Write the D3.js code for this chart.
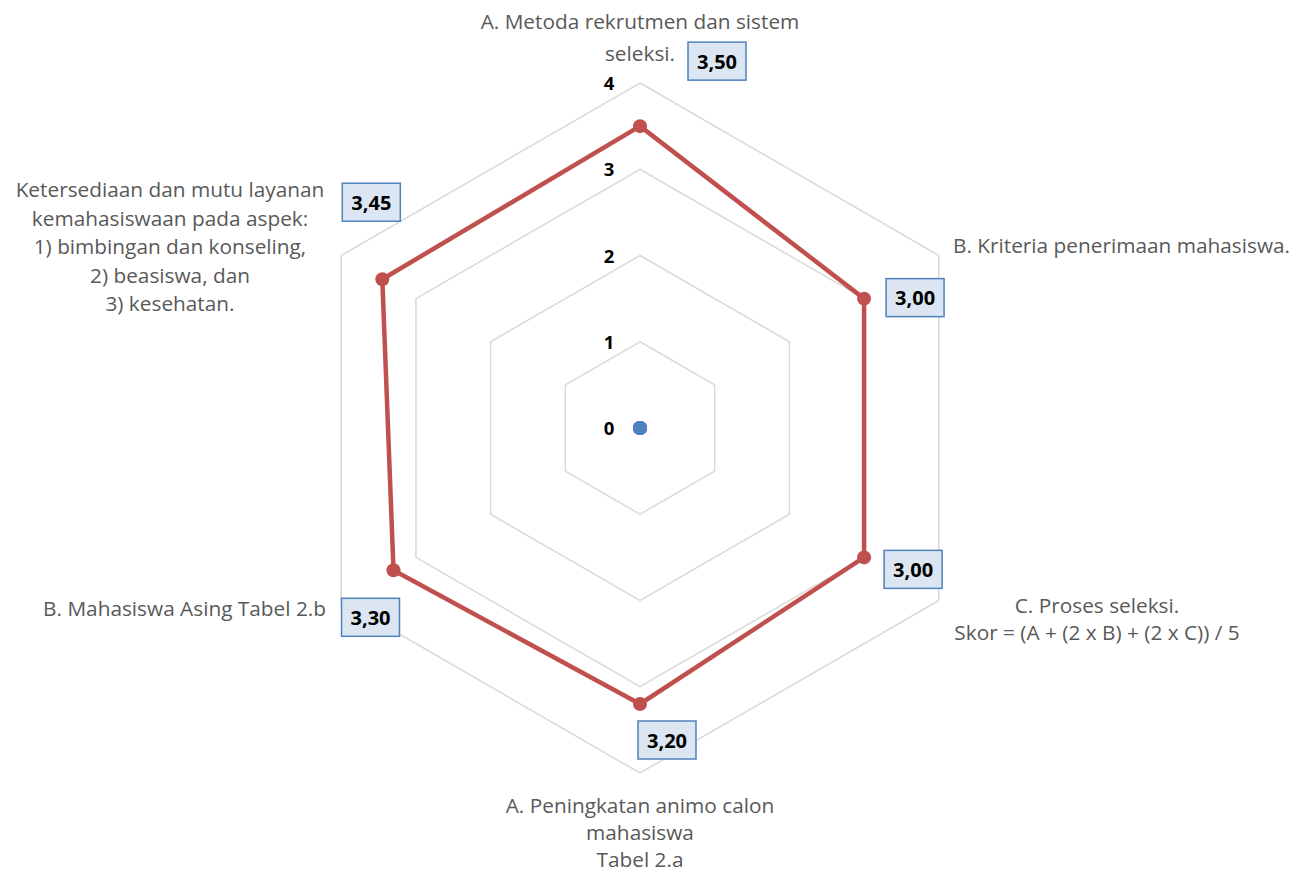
<!DOCTYPE html>
<html>
<head>
<meta charset="utf-8">
<script src="https://cdn.jsdelivr.net/npm/d3@7"></script>
<style>
  body { margin: 0; background: #fff; }
  svg { display: block; }
</style>
</head>
<body>
<div id="chart"></div>
<script>
// categories (clockwise from top), each a list of lines
var categories = [
  ["A. Metoda rekrutmen dan sistem", "seleksi."],
  ["B. Kriteria penerimaan mahasiswa."],
  ["C. Proses seleksi.", "Skor = (A + (2 x B) + (2 x C)) / 5"],
  ["A. Peningkatan animo calon", "mahasiswa", "Tabel 2.a"],
  ["B. Mahasiswa Asing Tabel 2.b"],
  ["Ketersediaan dan mutu layanan", "kemahasiswaan pada aspek:", "1) bimbingan dan konseling,", "2) beasiswa, dan", "3) kesehatan."]
]
var scores = [3.50, 3.00, 3.00, 3.20, 3.30, 3.45]
var baseline = [0, 0, 0, 0, 0, 0]
var ticks = [0, 1, 2, 3, 4]

var W = 1297, H = 874
var cx = 640, cy = 428, R = 345

var svg = d3.select("#chart").append("svg")
  .attr("width", W)
  .attr("height", H)

var r = d3.scaleLinear().domain([0, 4]).range([0, R])
var ang = d3.scaleLinear().domain([0, categories.length]).range([0, 2 * Math.PI])

function pt(i, v) {
  var a = ang(i)
  return [cx + r(v) * Math.sin(a), cy - r(v) * Math.cos(a)]
}

// grid hexagons
ticks.filter(function(t){ return t > 0 }).forEach(function(t) {
  var pts = categories.map(function(c, i){ return pt(i, t) })
  svg.append("path")
    .attr("d", d3.line()(pts) + "Z")
    .attr("fill", "none")
    .attr("stroke", "#d9d9d9")
    .attr("stroke-width", 1.5)
})

// tick labels
svg.selectAll(".tick").data(ticks).enter().append("text")
  .attr("class", "tick")
  .attr("x", cx - 31)
  .attr("y", function(d){ return cy - r(d) + 7 })
  .attr("text-anchor", "middle")
  .attr("font-family", "'Open Sans', sans-serif")
  .attr("font-weight", "bold")
  .attr("font-size", 18.5)
  .attr("fill", "#000")
  .text(function(d){ return d })

// baseline series (all zero)
svg.selectAll(".base").data(baseline).enter().append("circle")
  .attr("class", "base")
  .attr("cx", function(d, i){ return pt(i, d)[0] })
  .attr("cy", function(d, i){ return pt(i, d)[1] })
  .attr("r", 7)
  .attr("fill", "#4f81bd")

// score series
var linePts = scores.map(function(v, i){ return pt(i, v) })
svg.append("path")
  .attr("d", d3.line()(linePts) + "Z")
  .attr("fill", "none")
  .attr("stroke", "#c0504d")
  .attr("stroke-width", 4.5)
  .attr("stroke-linejoin", "round")

svg.selectAll(".dot").data(scores).enter().append("circle")
  .attr("class", "dot")
  .attr("cx", function(d, i){ return pt(i, d)[0] })
  .attr("cy", function(d, i){ return pt(i, d)[1] })
  .attr("r", 7)
  .attr("fill", "#c0504d")

// data label boxes, offset from each point
var boxOff = [[77, -65], [51, -1], [49, 12], [27, 36], [-23, 47], [-11, -77]]
var fmt = function(v){ return d3.format(".2f")(v).replace(".", ",") }

var lbl = svg.selectAll(".lbl").data(scores).enter().append("g")
  .attr("class", "lbl")
  .attr("transform", function(d, i){
    var p = pt(i, d)
    return "translate(" + (p[0] + boxOff[i][0]) + "," + (p[1] + boxOff[i][1]) + ")"
  })
lbl.append("rect")
  .attr("x", -29).attr("y", -19)
  .attr("width", 58).attr("height", 38)
  .attr("fill", "#dce6f2")
  .attr("stroke", "#4f81bd")
  .attr("stroke-width", 1.5)
lbl.append("text")
  .attr("y", 7.5)
  .attr("text-anchor", "middle")
  .attr("font-family", "'Open Sans', sans-serif")
  .attr("font-weight", "bold")
  .attr("font-size", 20)
  .attr("fill", "#000")
  .text(fmt)

// category labels
var catPos = [
  { x: 640, y: 29, anchor: "middle", lh: 32 },
  { x: 953, y: 253, anchor: "start", lh: 27 },
  { x: 1097, y: 613, anchor: "middle", lh: 27 },
  { x: 640, y: 813, anchor: "middle", lh: 27 },
  { x: 326, y: 616, anchor: "end", lh: 27 },
  { x: 170, y: 197, anchor: "middle", lh: 28.5 }
]
categories.forEach(function(lines, i) {
  var p = catPos[i]
  var t = svg.append("text")
    .attr("text-anchor", p.anchor)
    .attr("font-family", "'Open Sans', sans-serif")
    .attr("font-size", 20.8)
    .attr("fill", "#595959")
  lines.forEach(function(s, k) {
    t.append("tspan").attr("x", p.x).attr("y", p.y + k * p.lh).text(s)
  })
})
</script>
</body>
</html>
